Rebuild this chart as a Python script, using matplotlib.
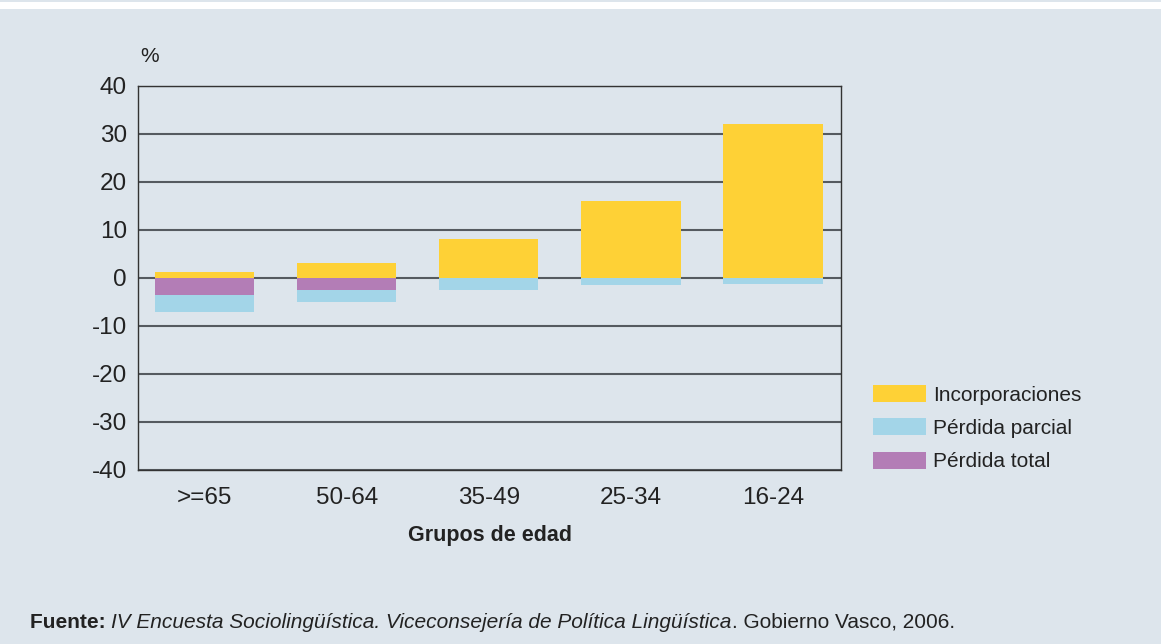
import matplotlib.pyplot as plt
import numpy as np
from matplotlib.patches import Rectangle

plt.rcParams['font.family'] = ['Liberation Sans', 'DejaVu Sans']
plt.rcParams['axes.unicode_minus'] = False

grupos = [">=65", "50-64", "35-49", "25-34", "16-24"]
incorporaciones = [1.3, 3.1, 8.1, 16.0, 32.1]
perdida_total = [-3.5, -2.5, 0.0, 0.0, 0.0]
perdida_parcial = [-3.6, -2.6, -2.6, -1.5, -1.2]

bg = "#dde5ec"
amarillo = "#fed136"
azul = "#a3d5e8"
morado = "#b37db6"
txt = "#222222"

fig = plt.figure(figsize=(11.61, 6.44), dpi=100, facecolor=bg)
# franja blanca arriba
fig.patches.append(Rectangle((0, 1 - 9 / 644), 1, 7 / 644, transform=fig.transFigure,
                             facecolor="white", edgecolor="none", zorder=0))

ax = fig.add_axes([138 / 1161, 1 - 470 / 644, (841 - 138) / 1161, (470 - 86) / 644])
ax.set_facecolor(bg)

x = np.arange(len(grupos))
w = 0.70
ax.bar(x, incorporaciones, w, color=amarillo, label="Incorporaciones", zorder=3)
ax.bar(x, perdida_parcial, w, bottom=perdida_total, color=azul, label="Pérdida parcial", zorder=3)
ax.bar(x, perdida_total, w, color=morado, label="Pérdida total", zorder=3)

ax.set_ylim(-40, 40)
ax.set_xlim(-0.47, 4.48)
ax.set_yticks(range(-40, 41, 10))
ax.set_xticks(x)
ax.set_xticklabels(grupos)
ax.yaxis.grid(True, color="#555a60", linewidth=1.5, zorder=1)
ax.set_axisbelow(True)
ax.tick_params(axis="both", length=0, labelsize=17.5, colors=txt)
ax.tick_params(axis="y", pad=8)
ax.tick_params(axis="x", pad=12)
for s in ax.spines.values():
    s.set_color("#333333")
    s.set_linewidth(1.0)

ax.set_xlabel("Grupos de edad", fontsize=15.5, fontweight="bold", color=txt, labelpad=12)
fig.text(149.5 / 1161, 1 - 57 / 644, "%", fontsize=15, color=txt, va="center", ha="center")

leg = ax.legend(loc="upper left", bbox_to_anchor=(1.045, 0.222), frameon=False, fontsize=15,
                handlelength=2.55, handleheight=0.9, labelspacing=0.65, handletextpad=0.35,
                borderaxespad=0, borderpad=0)
for t in leg.get_texts():
    t.set_color(txt)

# fuente: tres trozos seguidos
fig.canvas.draw()
r = fig.canvas.get_renderer()
xpos = 30
yf = 1 - 622 / 644
piezas = [("Fuente: ", dict(fontweight="bold")),
          ("IV Encuesta Sociolingüística. Viceconsejería de Política Lingüística", dict(style="italic")),
          (". Gobierno Vasco, 2006.", dict())]
for s, kw in piezas:
    t = fig.text(xpos / 1161, yf, s, fontsize=15, color=txt, va="center", **kw)
    bb = t.get_window_extent(r)
    xpos += bb.width

fig.savefig("out.png", dpi=100, facecolor=bg)
